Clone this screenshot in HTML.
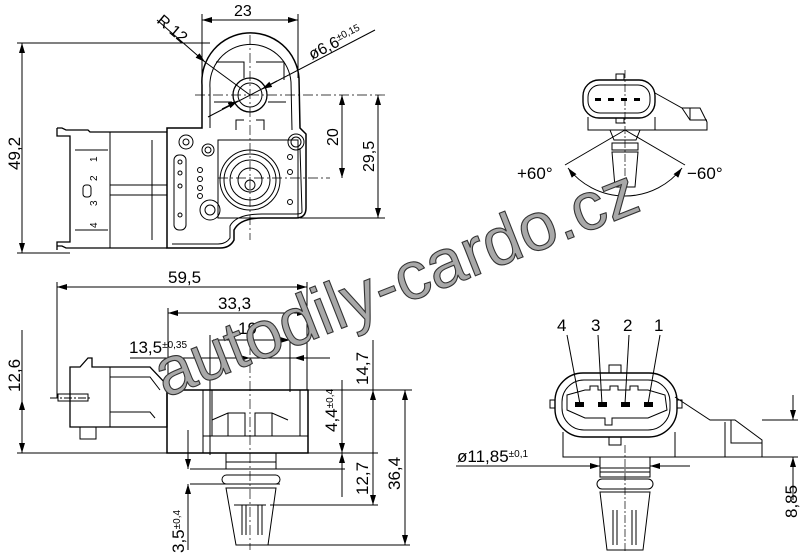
<!DOCTYPE html>
<html><head><meta charset="utf-8"><style>
html,body{margin:0;padding:0;background:#fff;}
svg{display:block;font-family:"Liberation Sans",sans-serif;}
</style></head><body>
<svg width="800" height="555" viewBox="0 0 800 555" xmlns="http://www.w3.org/2000/svg">
<defs>
<marker id="a" viewBox="0 0 10 6" refX="10" refY="3" markerWidth="10" markerHeight="6" orient="auto-start-reverse" markerUnits="userSpaceOnUse"><path d="M0,0 L10,3 L0,6z" fill="#000"/></marker>
</defs>
<g stroke="#000" fill="none" stroke-width="1">
<!-- ===== TOP LEFT VIEW ===== -->
<line x1="22" y1="43" x2="22" y2="253" marker-start="url(#a)" marker-end="url(#a)"/>
<line x1="17" y1="43" x2="210" y2="43"/>
<line x1="17" y1="253" x2="70" y2="253"/>
<line x1="202" y1="20" x2="298" y2="20" marker-start="url(#a)" marker-end="url(#a)"/>
<line x1="202" y1="14" x2="202" y2="128"/>
<line x1="298" y1="14" x2="298" y2="78"/>
<line x1="157" y1="20" x2="205" y2="62" marker-end="url(#a)"/>
<line x1="205" y1="62" x2="250" y2="95"/>
<line x1="208" y1="117" x2="375" y2="30"/>
<line x1="262" y1="89" x2="277" y2="81" marker-start="url(#a)"/>
<line x1="238" y1="101" x2="222" y2="109" marker-start="url(#a)"/>
<line x1="250" y1="35" x2="250" y2="240" stroke-dasharray="10,3,2,3" stroke-width="0.7"/>
<line x1="195" y1="95" x2="385" y2="95" stroke-dasharray="10,3,2,3" stroke-width="0.7"/>
<line x1="218" y1="178" x2="330" y2="178" stroke-dasharray="10,3,2,3" stroke-width="0.7"/>
<line x1="300" y1="218" x2="385" y2="218"/>
<line x1="342" y1="95" x2="342" y2="178" marker-start="url(#a)" marker-end="url(#a)"/>
<line x1="378" y1="95" x2="378" y2="218" marker-start="url(#a)" marker-end="url(#a)"/>
<path d="M202,128 L202,85 A48,48 0 0 1 299,78 L300,128 L306,134 L306,208 Q306,218 296,218 L262,218 Q240,218 234,230 L234,240 Q230,248 220,248 L167,248 L167,128 Z" stroke-width="1.5"/>
<path d="M210,128 L210,88 A40,40 0 0 1 291,82 L292,130" />
<path d="M300,148 L302,212 Q302,214 296,214 L262,214 Q236,214 230,226 L230,238 Q226,244 218,244 L172,244"/>
<circle cx="250" cy="95" r="17" stroke-width="1.3"/>
<circle cx="250" cy="95" r="12"/>
<path d="M216,62 L244,62 L244,78 M256,62 L284,62 L284,80 M214,102 L232,102 M268,102 L286,102 M236,130 L236,120 L244,120 M256,120 L264,120 L264,130"/>
<circle cx="250" cy="180" r="30"/>
<circle cx="250" cy="180" r="26"/>
<circle cx="250" cy="180" r="20"/>
<circle cx="250" cy="180" r="12"/>
<circle cx="250" cy="185" r="5"/>
<rect x="218" y="140" width="80" height="78"/>
<circle cx="186" cy="142" r="7"/><circle cx="186" cy="142" r="3"/>
<circle cx="208" cy="150" r="6"/><circle cx="208" cy="150" r="3"/>
<circle cx="296" cy="142" r="8"/><circle cx="296" cy="142" r="5"/>
<circle cx="210" cy="210" r="10"/><circle cx="210" cy="210" r="5"/>
<rect x="174" y="155" width="12" height="75" rx="5"/>
<circle cx="180" cy="162" r="2"/><circle cx="180" cy="173" r="2"/><circle cx="180" cy="186" r="2"/><circle cx="180" cy="215" r="2"/>
<circle cx="200" cy="170" r="2.5"/><circle cx="200" cy="179" r="2.5"/><circle cx="200" cy="188" r="2.5"/><circle cx="200" cy="196" r="2.5"/>
<circle cx="290" cy="157" r="2.5"/><circle cx="290" cy="172" r="2.5"/><circle cx="290" cy="202" r="2.5"/>
<path d="M57,128 L62,128 L66,130 L88,130 L90,132 L167,132 M57,246 L62,246 L66,248 L167,248" stroke-width="1.3"/>
<path d="M57,128 L57,136 L70,136 L70,242 L57,242 L57,250" stroke-width="1.3"/>
<line x1="110" y1="132" x2="110" y2="248"/>
<line x1="152" y1="140" x2="152" y2="240"/>
<line x1="110" y1="185" x2="167" y2="185"/>
<line x1="110" y1="195" x2="167" y2="195"/>
<line x1="75" y1="150" x2="108" y2="150"/>
<line x1="75" y1="230" x2="108" y2="230"/>
<rect x="83" y="185" width="8" height="12" rx="3"/>
</g>
<g font-size="16" fill="#000">
<text x="234" y="16">23</text>
<text transform="translate(20,170) rotate(-90)" font-size="17">49,2</text>
<text transform="translate(156,22) rotate(40)" font-size="16">R 12</text>
<text transform="translate(312,60) rotate(-27)" font-size="16">ø6,6<tspan font-size="10" dy="-5">±0,15</tspan></text>
<text transform="translate(338,146) rotate(-90)">20</text>
<text transform="translate(374,172) rotate(-90)">29,5</text>
<g font-size="10"><text transform="translate(97,162) rotate(-90)">1</text><text transform="translate(97,181) rotate(-90)">2</text><text transform="translate(97,206) rotate(-90)">3</text><text transform="translate(97,228) rotate(-90)">4</text></g>
</g>

<!-- ===== TOP RIGHT VIEW ===== -->
<g stroke="#000" fill="none" stroke-width="1">
<rect x="583" y="80" width="72" height="38" rx="16" stroke-width="1.4"/>
<rect x="588" y="85" width="62" height="28" rx="12"/>
<rect x="616" y="74" width="8" height="6"/>
<rect x="616" y="118" width="8" height="5"/>
<path d="M588,117 L588,130 L707,130 L707,122 L700,108 L682,108 L655,93"/>
<line x1="655" y1="117" x2="655" y2="130"/>
<path d="M682,108 L690,120 L707,120 M690,108 L690,120"/>
<line x1="625" y1="70" x2="625" y2="195" stroke-dasharray="8,2,2,2" stroke-width="0.7"/>
<path d="M610,130 L640,130 L636,140 L614,140Z M612,143 L638,143 L638,150 L612,150Z M612,152 L638,152 L635,187 L615,187Z"/>
<line x1="625" y1="130" x2="565" y2="165"/><line x1="625" y1="130" x2="685" y2="165"/>
<path d="M568,168 A72,72 0 0 0 682,168" marker-start="url(#a)" marker-end="url(#a)"/>
</g>
<g fill="#000">
<rect x="595" y="98" width="6" height="3"/><rect x="608" y="98" width="6" height="3"/><rect x="621" y="98" width="6" height="3"/><rect x="634" y="98" width="6" height="3"/>
<text x="517" y="179" font-size="17">+60°</text>
<text x="687" y="179" font-size="17">−60°</text>
</g>

<!-- ===== BOTTOM LEFT VIEW ===== -->
<g stroke="#000" fill="none" stroke-width="1">
<line x1="57" y1="287" x2="307" y2="287" marker-start="url(#a)" marker-end="url(#a)"/>
<line x1="57" y1="282" x2="57" y2="398"/>
<line x1="307" y1="282" x2="307" y2="390"/>
<line x1="168" y1="313" x2="307" y2="313" marker-start="url(#a)" marker-end="url(#a)"/>
<line x1="168" y1="308" x2="168" y2="390"/>
<line x1="213" y1="340" x2="290" y2="340" marker-end="url(#a)"/>
<line x1="210" y1="335" x2="210" y2="455"/>
<line x1="290" y1="335" x2="290" y2="392"/>
<line x1="130" y1="358" x2="330" y2="358"/>
<line x1="232" y1="358" x2="250" y2="358" marker-end="url(#a)"/>
<line x1="310" y1="358" x2="294" y2="358" marker-end="url(#a)"/>
<line x1="22" y1="330" x2="22" y2="400"/>
<line x1="22" y1="400" x2="22" y2="453" marker-start="url(#a)" marker-end="url(#a)"/>
<line x1="17" y1="453" x2="378" y2="453"/>
<line x1="50" y1="398" x2="92" y2="398" stroke-dasharray="8,2,2,2"/>
<line x1="250" y1="345" x2="250" y2="550" stroke-dasharray="10,3,2,3" stroke-width="0.7"/>
<path d="M70,367 L80,367 L88,358 L92,358 L92,367 L150,367 L167,385 L167,427 L70,427 Z" stroke-width="1.3"/>
<path d="M110,367 L110,427 M110,377 L150,377 L160,390 M110,412 L150,412 L155,418"/>
<rect x="58" y="394" width="30" height="7"/>
<rect x="80" y="427" width="16" height="12"/>
<rect x="167" y="390" width="141" height="63" stroke-width="1.5"/>
<line x1="203" y1="390" x2="203" y2="453"/>
<path d="M212,390 L212,436 L300,436 L300,390"/>
<path d="M203,436 L308,436"/>
<path d="M212,420 L228,413 L245,413 L245,436 M288,420 L272,413 L255,413 L255,436 M228,413 L228,436 M272,413 L272,436"/>
<rect x="226" y="453" width="50" height="16"/>
<line x1="226" y1="462" x2="276" y2="462"/>
<rect x="222" y="475" width="58" height="9" rx="4.5"/>
<path d="M226,488 L276,488 L268,545 L236,545 Z"/>
<path d="M242,505 L242,535 M246,505 L246,535 M258,505 L258,535 M262,505 L262,535 M234,505 L266,505"/>
<line x1="342" y1="380" x2="342" y2="453" marker-end="url(#a)"/>
<line x1="342" y1="453" x2="342" y2="497" marker-start="url(#a)"/>
<line x1="373" y1="340" x2="373" y2="390" />
<line x1="373" y1="390" x2="373" y2="505" marker-start="url(#a)" marker-end="url(#a)"/>
<line x1="405" y1="390" x2="405" y2="545" marker-start="url(#a)" marker-end="url(#a)"/>
<line x1="308" y1="390" x2="412" y2="390"/>
<line x1="190" y1="469" x2="345" y2="469"/>
<line x1="190" y1="484" x2="280" y2="484"/>
<line x1="270" y1="505" x2="378" y2="505"/>
<line x1="268" y1="545" x2="410" y2="545"/>
<line x1="188" y1="430" x2="188" y2="469" marker-end="url(#a)"/>
<line x1="188" y1="484" x2="188" y2="550" marker-start="url(#a)"/>
</g>
<g fill="#000" font-size="17">
<text x="168" y="283">59,5</text>
<text x="218" y="309">33,3</text>
<text x="238" y="334">19</text>
<text x="129" y="353">13,5<tspan font-size="10" dy="-5">±0,35</tspan></text>
<text transform="translate(20,392) rotate(-90)">12,6</text>
<text transform="translate(337,432) rotate(-90)">4,4<tspan font-size="10" dy="-4">±0,4</tspan></text>
<text transform="translate(368,385) rotate(-90)">14,7</text>
<text transform="translate(368,495) rotate(-90)">12,7</text>
<text transform="translate(400,490) rotate(-90)">36,4</text>
<text transform="translate(184,553) rotate(-90)">3,5<tspan font-size="10" dy="-4">±0,4</tspan></text>
</g>

<!-- ===== BOTTOM RIGHT VIEW ===== -->
<g stroke="#000" fill="none" stroke-width="1">
<rect x="555" y="373" width="122" height="64" rx="28" stroke-width="1.4"/>
<rect x="562" y="380" width="108" height="50" rx="22"/>
<path d="M567,395 L585,390 L590,390 L590,386 L598,386 L598,390 L610,390 L610,386 L618,386 L618,390 L630,390 L630,386 L638,386 L638,390 L648,390 L665,395 L667,410 L648,418 L612,418 L612,425 L605,425 L605,418 L585,418 L567,410 Z"/>
<rect x="609" y="365" width="12" height="8"/>
<rect x="609" y="437" width="12" height="8"/>
<rect x="550" y="400" width="5" height="8"/><rect x="677" y="400" width="5" height="8"/>
<path d="M563,432 L563,457 L762,457 L762,440 L735,420 L710,420 L675,397"/>
<line x1="675" y1="432" x2="675" y2="457"/>
<path d="M725,422 L725,457 M731,420 L731,443 L762,443"/>
<line x1="625" y1="445" x2="625" y2="552" stroke-dasharray="8,2,2,2" stroke-width="0.7"/>
<rect x="600" y="457" width="50" height="20"/>
<line x1="600" y1="468" x2="650" y2="468"/>
<line x1="600" y1="472" x2="650" y2="472"/>
<rect x="597" y="479" width="56" height="10" rx="5"/>
<path d="M600,492 L650,492 L643,550 L607,550 Z"/>
<path d="M613,510 L613,545 M617,510 L617,545 M632,510 L632,545 M636,510 L636,545"/>
<line x1="456" y1="466" x2="600" y2="466" marker-end="url(#a)"/>
<line x1="690" y1="466" x2="650" y2="466" marker-end="url(#a)"/>
<line x1="762" y1="420" x2="798" y2="420"/>
<line x1="762" y1="457" x2="798" y2="457"/>
<line x1="793" y1="395" x2="793" y2="420" marker-end="url(#a)"/>
<line x1="793" y1="457" x2="793" y2="500" marker-start="url(#a)"/>
<line x1="567" y1="335" x2="580" y2="404"/>
<line x1="598" y1="335" x2="602" y2="404"/>
<line x1="629" y1="335" x2="625" y2="404"/>
<line x1="660" y1="335" x2="648" y2="404"/>
</g>
<g fill="#000">
<rect x="575" y="402" width="9" height="5"/><rect x="598" y="402" width="9" height="5"/><rect x="621" y="402" width="9" height="5"/><rect x="644" y="402" width="9" height="5"/>
<g font-size="17"><text x="557" y="331">4</text><text x="591" y="331">3</text><text x="623" y="331">2</text><text x="654" y="331">1</text></g>
<text x="457" y="462" font-size="17">ø11,85<tspan font-size="10" dy="-5">±0,1</tspan></text>
<text transform="translate(797,518) rotate(-90)" font-size="17">8,85</text>
</g>

<text transform="translate(165,398) rotate(-21.5)" font-size="68" fill="#a8a8a8" stroke="#333" stroke-width="1.1" font-family="Liberation Sans, sans-serif">autodily-cardo.cz</text>
</svg>
</body></html>
